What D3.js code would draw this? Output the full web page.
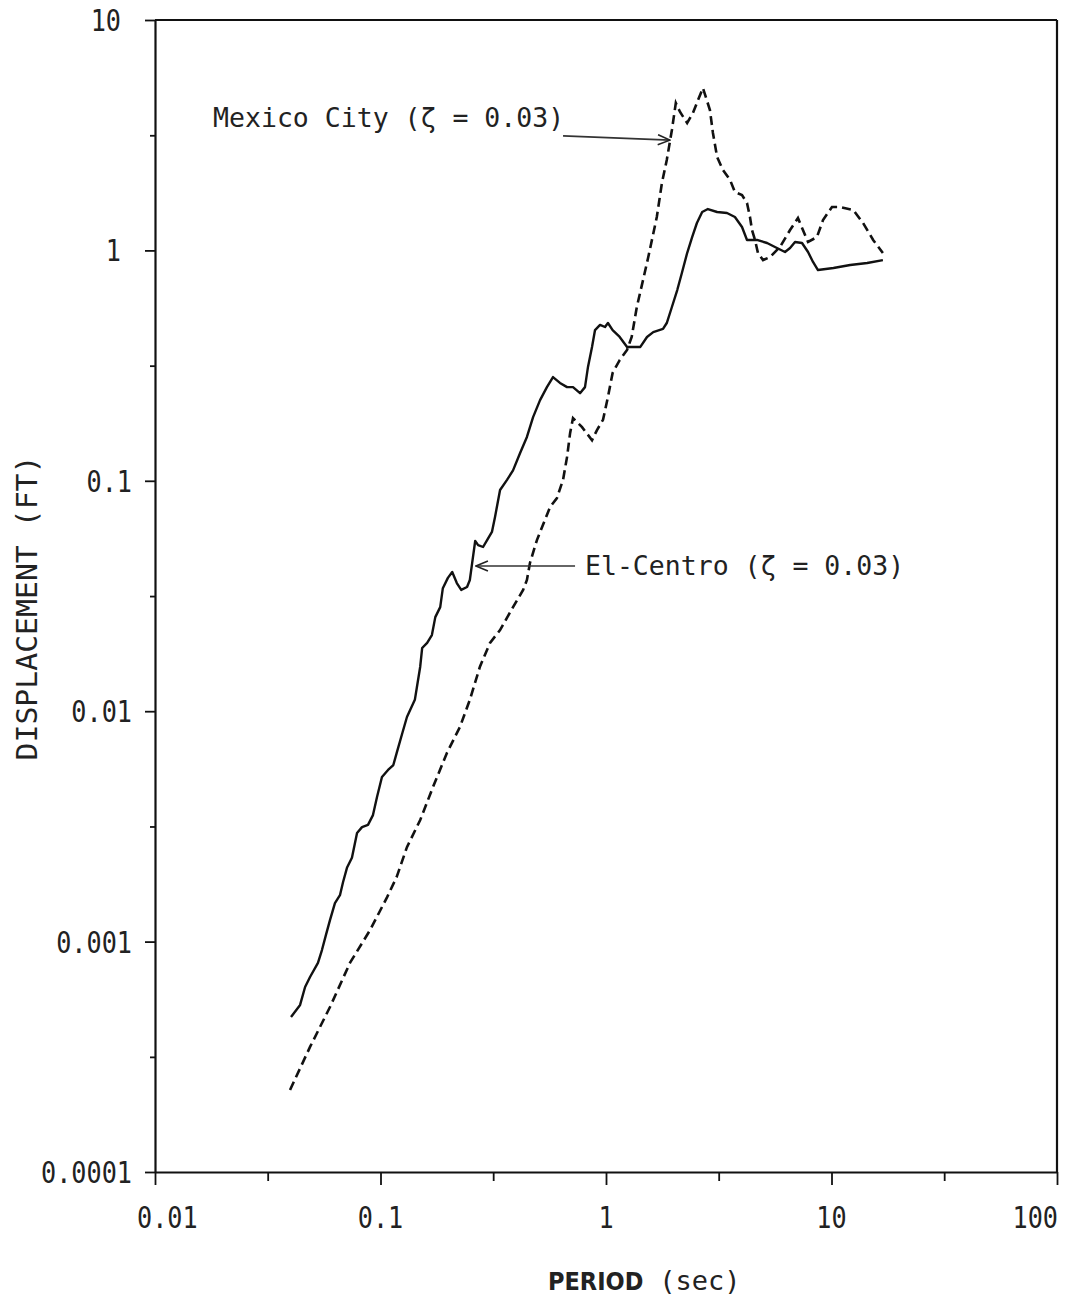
<!DOCTYPE html>
<html>
<head>
<meta charset="utf-8">
<script src="https://cdn.jsdelivr.net/npm/d3@7"></script>
<style>
  body { margin: 0; background: #fff; }
  svg { display: block; }
  text { font-family: "DejaVu Sans Mono", monospace; fill: #222; }
</style>
</head>
<body>
<svg id="chart" width="1072" height="1297"></svg>
<script>
// Displacement response spectra, damping ratio 0.03
const periodElCentro = [0.0401,0.0440,0.0463,0.0487,0.0528,0.0550,0.0573,0.0597,0.0628,0.0661,
  0.0682,0.0710,0.0747,0.0787,0.0828,0.0880,0.0926,0.0965,0.1015,0.108,
  0.114,0.118,0.125,0.131,0.142,0.145,0.150,0.153,0.161,0.169,
  0.175,0.184,0.189,0.199,0.208,0.218,0.228,0.242,0.249,0.255,
  0.263,0.271,0.285,0.297,0.312,0.322,0.339,0.364,0.387,0.416,
  0.446,0.475,0.510,0.547,0.582,0.625,0.672,0.714,0.767,0.807,
  0.832,0.867,0.894,0.941,0.990,1.02,1.07,1.15,1.24,1.42,
  1.52,1.62,1.79,1.86,1.96,2.07,2.17,2.29,2.41,2.53,
  2.67,2.83,3.11,3.44,3.73,4.01,4.22,4.67,5.18,5.73,
  6.22,6.55,6.89,7.40,7.87,8.28,8.71,10.2,12.1,14.4,16.9];
const dispElCentro = [0.000471,0.000531,0.000635,0.000702,0.000808,0.000919,0.00107,0.00124,0.00147,0.00159,
  0.00181,0.00209,0.00231,0.00296,0.00314,0.00321,0.00354,0.00424,0.00518,0.00556,
  0.00584,0.00659,0.00804,0.00944,0.0112,0.0127,0.0156,0.0188,0.0198,0.0214,
  0.0256,0.0283,0.0342,0.0379,0.0402,0.0360,0.0336,0.0346,0.0371,0.0440,
  0.0548,0.0526,0.0516,0.0553,0.0600,0.0697,0.0912,0.101,0.111,0.132,
  0.155,0.189,0.224,0.255,0.282,0.266,0.255,0.255,0.240,0.255,
  0.312,0.381,0.451,0.475,0.465,0.484,0.451,0.421,0.381,0.381,
  0.421,0.442,0.456,0.484,0.568,0.673,0.798,0.974,1.143,1.315,
  1.468,1.512,1.468,1.453,1.396,1.264,1.110,1.110,1.077,1.024,
  0.984,1.024,1.088,1.077,0.984,0.891,0.822,0.839,0.864,0.882,0.908];

const periodMexico = [0.0397,0.0487,0.0597,0.0732,0.0898,0.107,0.118,0.131,0.150,0.171,
  0.197,0.225,0.249,0.276,0.306,0.339,0.387,0.429,0.446,0.460,
  0.494,0.547,0.565,0.606,0.645,0.672,0.693,0.714,0.783,0.867,
  0.912,0.970,1.02,1.07,1.15,1.24,1.30,1.37,1.46,1.54,
  1.68,1.77,1.86,1.96,2.04,2.13,2.29,2.43,2.56,2.69,
  2.89,2.98,3.11,3.30,3.55,3.73,4.01,4.22,4.35,4.44,
  4.58,4.72,4.97,5.34,5.91,6.55,7.10,7.47,7.87,8.62,
  9.17,10.05,10.9,12.5,13.8,15.3,16.9];
const dispMexico = [0.000227,0.000349,0.000520,0.000808,0.00112,0.00156,0.00191,0.00257,0.00337,0.00469,
  0.00659,0.00854,0.0112,0.0156,0.0198,0.0225,0.0283,0.0336,0.0371,0.0440,
  0.0553,0.0711,0.0770,0.0842,0.101,0.127,0.161,0.187,0.171,0.150,
  0.166,0.184,0.231,0.294,0.334,0.370,0.421,0.568,0.744,0.936,
  1.396,1.961,2.468,3.331,4.363,3.988,3.573,3.949,4.496,5.070,
  4.068,3.232,2.543,2.234,2.021,1.792,1.740,1.606,1.396,1.226,
  1.110,0.974,0.908,0.936,1.035,1.226,1.382,1.226,1.088,1.143,
  1.355,1.543,1.543,1.497,1.315,1.110,0.974];

// Axis ticks
const xMajorTicks = [0.01, 0.1, 1, 10, 100];
const xTickLabels = ["0.01", "0.1", "1", "10", "100"];
const xMinorTicks = [0.0316, 0.316, 3.16, 31.6];
const yMajorTicks = [0.0001, 0.001, 0.01, 0.1, 1, 10];
const yTickLabels = ["0.0001", "0.001", "0.01", "0.1", "1", "10"];
const yMinorTicks = [0.000316, 0.00316, 0.0316, 0.316, 3.16];

// Annotations: label text, label anchor (period, disp), arrow tail and tip (period, disp)
const annotLabels = ["Mexico City (ζ = 0.03)", "El-Centro (ζ = 0.03)"];
const annotTextAt = [[0.0181, 3.43], [0.807, 0.039]];
const annotTail = [[0.645, 3.14], [0.729, 0.0427]];
const annotTip = [[1.92, 3.01], [0.265, 0.0427]];

const svg = d3.select("#chart");
const plotLeft = 155, plotRight = 1057, plotTop = 20, plotBottom = 1172;

const x = d3.scaleLog().domain([0.01, 100]).range([plotLeft, plotRight]);
const y = d3.scaleLog().domain([0.0001, 10]).range([plotBottom, plotTop]);

// frame (top and right edges)
svg.append("line").attr("x1", plotLeft).attr("x2", plotRight).attr("y1", plotTop).attr("y2", plotTop)
  .attr("stroke", "#111").attr("stroke-width", 2.2);
svg.append("line").attr("x1", plotRight).attr("x2", plotRight).attr("y1", plotTop).attr("y2", plotBottom)
  .attr("stroke", "#111").attr("stroke-width", 2.2);

// bottom axis: major and minor ticks
const gx = svg.append("g").attr("transform", `translate(0,${plotBottom})`);
gx.call(d3.axisBottom(x).tickValues(xMajorTicks).tickFormat("").tickSize(13).tickSizeOuter(0));
gx.append("g").call(d3.axisBottom(x).tickValues(xMinorTicks).tickFormat("").tickSize(9).tickSizeOuter(0))
  .select(".domain").remove();
gx.selectAll("path.domain").attr("stroke", "#111").attr("stroke-width", 2.2);
gx.selectAll("line").attr("stroke", "#111").attr("stroke-width", 1.8);

// left axis
const gy = svg.append("g").attr("transform", `translate(${plotLeft},0)`);
gy.call(d3.axisLeft(y).tickValues(yMajorTicks).tickFormat("").tickSize(10).tickSizeOuter(0));
gy.append("g").call(d3.axisLeft(y).tickValues(yMinorTicks).tickFormat("").tickSize(5).tickSizeOuter(0))
  .select(".domain").remove();
gy.selectAll("path.domain").attr("stroke", "#111").attr("stroke-width", 2.2);
gy.selectAll("line").attr("stroke", "#111").attr("stroke-width", 1.8);

// tick labels in a condensed monospace
const labelSize = 30, squeeze = 0.84;
xMajorTicks.forEach((v, i) => {
  let px = x(v), anchor = "middle";
  if (i === 0) { px = x(v) - 18; anchor = "start"; }
  if (i === xMajorTicks.length - 1) { px = x(v) + 1; anchor = "end"; }
  svg.append("text")
    .attr("transform", `translate(${px},1228) scale(${squeeze},1)`)
    .attr("text-anchor", anchor)
    .attr("font-size", labelSize)
    .text(xTickLabels[i]);
});
yMajorTicks.forEach((v, i) => {
  const lbl = yTickLabels[i];
  const px = lbl.includes(".") ? 132 : 121;
  svg.append("text")
    .attr("transform", `translate(${px},${y(v) + 11}) scale(${squeeze},1)`)
    .attr("text-anchor", "end")
    .attr("font-size", labelSize)
    .text(lbl);
});

// axis titles
const xt = svg.append("text")
  .attr("x", 548).attr("y", 1290)
  .attr("font-size", 27);
xt.append("tspan").attr("font-weight", "bold").attr("font-size", 25)
  .attr("font-family", "'DejaVu Sans Condensed', sans-serif").text("PERIOD");
xt.append("tspan").attr("dx", 16).text("(sec)");

svg.append("text")
  .attr("transform", "translate(37,608) rotate(-90)")
  .attr("text-anchor", "middle")
  .attr("font-size", 29)
  .attr("textLength", 305)
  .attr("lengthAdjust", "spacingAndGlyphs")
  .text("DISPLACEMENT (FT)");

// spectra
const line = d3.line().x(d => x(d[0])).y(d => y(d[1]));
const elCentro = periodElCentro.map((p, i) => [p, dispElCentro[i]]);
const mexico = periodMexico.map((p, i) => [p, dispMexico[i]]);

svg.append("path").datum(elCentro)
  .attr("d", line).attr("fill", "none")
  .attr("stroke", "#111").attr("stroke-width", 2.4)
  .attr("stroke-linejoin", "round");
svg.append("path").datum(mexico)
  .attr("d", line).attr("fill", "none")
  .attr("stroke", "#111").attr("stroke-width", 2.6)
  .attr("stroke-dasharray", "9,5");

// annotation labels and arrows
const marker = svg.append("defs").append("marker")
  .attr("id", "openArrow").attr("viewBox", "0 0 14 12")
  .attr("refX", 13).attr("refY", 6)
  .attr("markerWidth", 14).attr("markerHeight", 12)
  .attr("markerUnits", "userSpaceOnUse").attr("orient", "auto");
marker.append("path").attr("d", "M1,1 L13,6 L1,11")
  .attr("fill", "none").attr("stroke", "#222").attr("stroke-width", 1.6);

annotLabels.forEach((t, i) => {
  svg.append("text")
    .attr("x", x(annotTextAt[i][0])).attr("y", y(annotTextAt[i][1]))
    .attr("font-size", 26.5)
    .text(t);
  svg.append("line")
    .attr("x1", x(annotTail[i][0])).attr("y1", y(annotTail[i][1]))
    .attr("x2", x(annotTip[i][0])).attr("y2", y(annotTip[i][1]))
    .attr("stroke", "#333").attr("stroke-width", 1.6)
    .attr("marker-end", "url(#openArrow)");
});
</script>
</body>
</html>
